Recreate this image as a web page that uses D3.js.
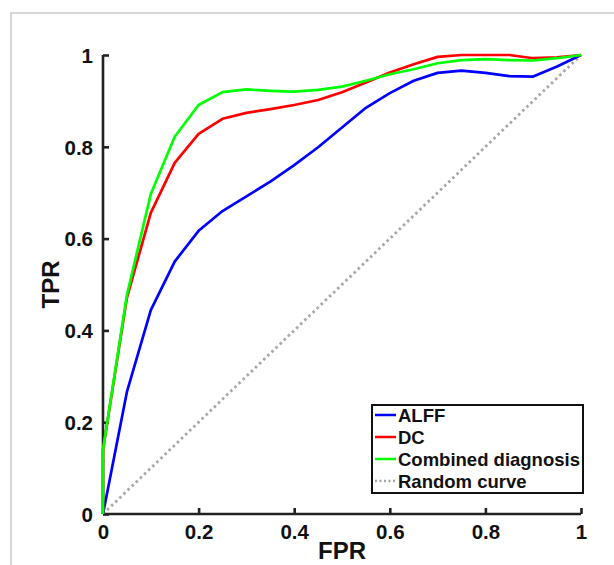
<!DOCTYPE html>
<html>
<head>
<meta charset="utf-8">
<script src="https://cdn.jsdelivr.net/npm/d3@7"></script>
<style>
  body { margin: 0; background: #fff; }
  text { font-family: "Liberation Sans", Arial, sans-serif; font-weight: bold; fill: #111; }
</style>
</head>
<body>
<div id="canvas"></div>
<script>
// //ROC data (FPR step 0.05, extra point at FPR 0)
var fpr = [0, 0, 0.05, 0.1, 0.15, 0.2, 0.25, 0.3, 0.35, 0.4, 0.45, 0.5, 0.55, 0.6, 0.65, 0.7, 0.75, 0.8, 0.85, 0.9, 0.95, 1]
var alff = [0, 0, 0.266, 0.444, 0.55, 0.617, 0.66, 0.692, 0.724, 0.76, 0.799, 0.842, 0.885, 0.917, 0.944, 0.961, 0.966, 0.961, 0.954, 0.953, 0.975, 1]
var dc = [0, 0.14, 0.471, 0.656, 0.765, 0.828, 0.861, 0.874, 0.882, 0.891, 0.902, 0.919, 0.94, 0.962, 0.98, 0.996, 1, 1, 1, 0.993, 0.995, 1]
var combined = [0, 0.14, 0.477, 0.697, 0.822, 0.891, 0.919, 0.925, 0.922, 0.92, 0.924, 0.931, 0.944, 0.958, 0.969, 0.982, 0.989, 0.991, 0.989, 0.988, 0.993, 1]
var randomCurve = [0, 1]
var ticks = [0, 0.2, 0.4, 0.6, 0.8, 1]
var seriesNames = ["ALFF", "DC", "Combined diagnosis", "Random curve"]

window.app = {}

window.app.RenderGraph = function () {
  var width = 614, height = 565

  var svg = d3.select("#canvas").append("svg")
      .attr("width", width)
      .attr("height", height)

  // light frame round the figure
  svg.append("rect")
      .attr("x", 11).attr("y", 13)
      .attr("width", 700).attr("height", 700)
      .attr("fill", "none")
      .attr("stroke", "#c9c9c9")
      .attr("stroke-width", 1.5)

  var x = d3.scaleLinear().domain([0, 1]).range([103, 581])
  var y = d3.scaleLinear().domain([0, 1]).range([514, 55])

  var line = d3.line()
      .x(function (d) { return x(d[0]) })
      .y(function (d) { return y(d[1]) })

  var series = [
    { name: seriesNames[0], color: "#0000ff", pts: d3.zip(fpr, alff) },
    { name: seriesNames[1], color: "#ff0000", pts: d3.zip(fpr, dc) },
    { name: seriesNames[2], color: "#00ff00", pts: d3.zip(fpr, combined) },
    { name: seriesNames[3], color: "#a6a6a6", pts: d3.zip(randomCurve, randomCurve), dash: "2.5,3.2" }
  ]

  // random curve goes under everything
  svg.append("path")
      .attr("d", line(series[3].pts))
      .attr("fill", "none")
      .attr("stroke", series[3].color)
      .attr("stroke-width", 2.8)
      .attr("stroke-dasharray", series[3].dash)

  // axes (box off, ticks pointing in)
  var xAxis = svg.append("g")
      .attr("transform", "translate(0," + y(0) + ")")
      .call(d3.axisTop(x).tickValues(ticks).tickSize(6).tickFormat(d3.format("")))
  xAxis.selectAll("text")
      .attr("y", 25)
      .attr("dy", 0)
      .style("font-size", "20.5px")
      .attr("text-anchor", "middle")

  var yAxis = svg.append("g")
      .attr("transform", "translate(" + x(0) + ",0)")
      .call(d3.axisRight(y).tickValues(ticks).tickSize(6).tickFormat(d3.format("")))
  yAxis.selectAll("text")
      .attr("x", -10)
      .attr("dy", "0.36em")
      .style("font-size", "20.5px")
      .attr("text-anchor", "end")

  svg.selectAll(".domain")
      .attr("stroke", "#222")
      .attr("stroke-width", 2.6)
      .attr("d", function (d, i) {
        return i == 0 ? "M" + x(0) + ",0H" + x(1) : "M0," + y(0) + "V" + y(1)
      })
  svg.selectAll(".tick line")
      .attr("stroke", "#222")
      .attr("stroke-width", 2.6)
  svg.selectAll(".tick text").attr("fill", "#111")

  // the three ROC curves
  series.slice(0, 3).forEach(function (s) {
    svg.append("path")
        .attr("d", line(s.pts))
        .attr("fill", "none")
        .attr("stroke", s.color)
        .attr("stroke-width", 2.7)
        .attr("stroke-linejoin", "round")
  })

  // axis labels
  svg.append("text")
      .attr("x", (x(0) + x(1)) / 2)
      .attr("y", 559)
      .attr("text-anchor", "middle")
      .style("font-size", "24px")
      .text("FPR")

  svg.append("text")
      .attr("transform", "translate(59," + (y(0) + y(1)) / 2 + ") rotate(-90)")
      .attr("text-anchor", "middle")
      .style("font-size", "24px")
      .text("TPR")

  // legend
  var legend = svg.append("g")
  legend.append("rect")
      .attr("x", 372).attr("y", 405)
      .attr("width", 211).attr("height", 88)
      .attr("fill", "#fff")
      .attr("stroke", "#111")
      .attr("stroke-width", 2)

  var rows = legend.selectAll("g.row")
      .data(series)
      .enter().append("g")
      .attr("transform", function (d, i) { return "translate(0," + (415 + i * 22) + ")" })

  rows.append("line")
      .attr("x1", 375).attr("x2", 396)
      .attr("stroke", function (d) { return d.color })
      .attr("stroke-width", 2.5)
      .attr("stroke-dasharray", function (d) { return d.dash ? "2,2.5" : null })

  rows.append("text")
      .attr("x", 398)
      .attr("dy", "0.36em")
      .style("font-size", "18.5px")
      .text(function (d) { return d.name })
}

window.app.RenderGraph()
</script>
</body>
</html>
